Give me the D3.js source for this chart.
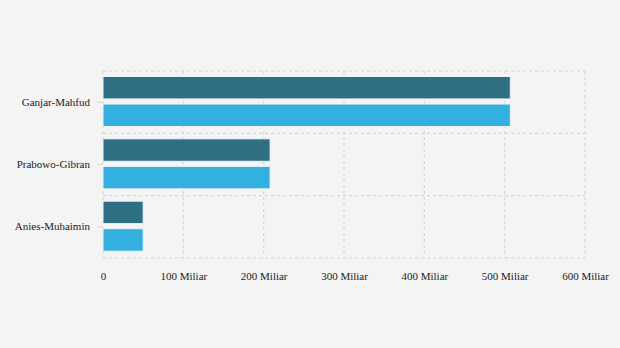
<!DOCTYPE html>
<html><head><meta charset="utf-8">
<script src="https://cdn.jsdelivr.net/npm/d3@7"></script>
<style>body{margin:0;background:#f4f4f4;}svg{display:block;}</style>
</head><body>
<svg id="c" width="620" height="348"></svg>
<script>
const categories = ["Ganjar-Mahfud", "Prabowo-Gibran", "Anies-Muhaimin"];
const seriesA = [507, 208, 50];
const seriesB = [507, 208, 50];
const xTicks = [0, 100, 200, 300, 400, 500, 600];
const xTickLabels = ["0", "100 Miliar", "200 Miliar", "300 Miliar", "400 Miliar", "500 Miliar", "600 Miliar"];
const colors = ["#2f6f83", "#33b0e0"];

const svg = d3.select("#c");
const m = {l: 103, r: 35, t: 71, b: 90};
const W = 620, H = 348;
const x = d3.scaleLinear().domain([0, 600]).range([m.l, W - m.r]);
const y = d3.scaleBand().domain(categories).range([m.t, H - m.b]).paddingInner(0).paddingOuter(0);
const sub = d3.scaleBand().domain([0, 1]).range([5.5, 55.5]).paddingInner(0.185).paddingOuter(0);

svg.append("rect").attr("width", W).attr("height", H).attr("fill", "#f4f4f4");

const grid = svg.append("g").attr("stroke", "#d6d6d6").attr("stroke-dasharray", "3,3").attr("stroke-width", 1.2);
xTicks.forEach(t => grid.append("line").attr("x1", x(t)).attr("x2", x(t)).attr("y1", m.t).attr("y2", H - m.b));
const yEdges = categories.map(c => y(c)).concat([H - m.b]);
yEdges.forEach(v => grid.append("line").attr("x1", m.l).attr("x2", W - m.r).attr("y1", v).attr("y2", v));

const data = categories.map((c, i) => ({c, v: [seriesA[i], seriesB[i]]}));
const g = svg.append("g");
data.forEach(d => {
  d.v.forEach((v, j) => {
    g.append("rect")
      .attr("x", x(0)).attr("y", y(d.c) + sub(j))
      .attr("width", x(v) - x(0)).attr("height", sub.bandwidth())
      .attr("fill", colors[j]).attr("stroke", "#eef3f6").attr("stroke-width", 1);
  });
});

const yAxis = svg.append("g").attr("transform", `translate(${m.l},0)`)
  .call(d3.axisLeft(y).tickSize(6).tickPadding(7));
yAxis.select(".domain").remove();
yAxis.selectAll(".tick line").attr("stroke", "#d6d6d6");
yAxis.selectAll("text").attr("font-family", "Liberation Serif, serif").attr("font-size", 11).attr("fill", "#222");

const xAxis = svg.append("g").attr("transform", `translate(0,${H - m.b})`)
  .call(d3.axisBottom(x).tickValues(xTicks).tickFormat((d, i) => xTickLabels[i]).tickSize(0).tickPadding(14));
xAxis.select(".domain").remove();
xAxis.selectAll("text").attr("font-family", "Liberation Serif, serif").attr("font-size", 11).attr("fill", "#222");
</script>
</body></html>
